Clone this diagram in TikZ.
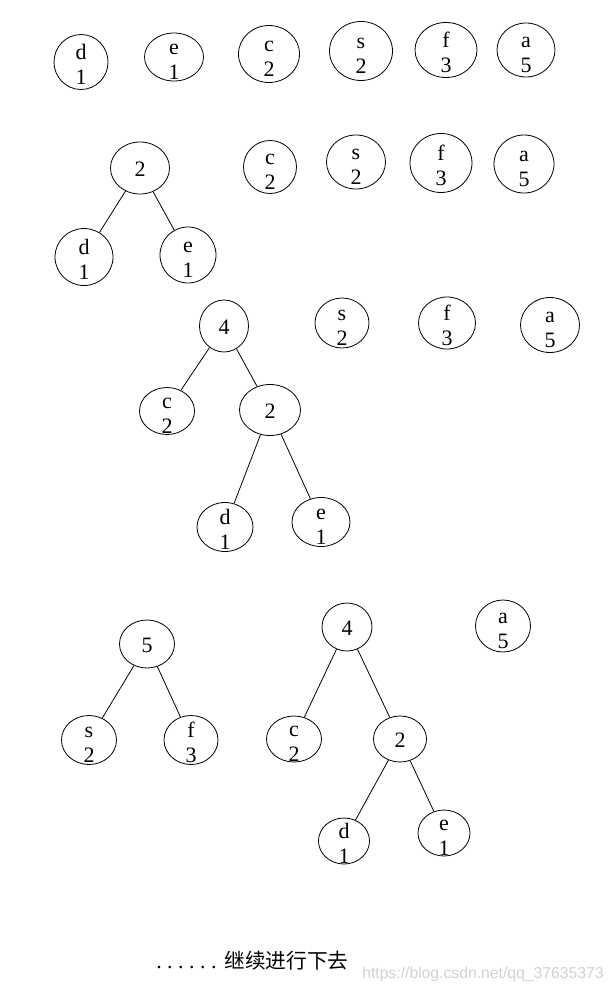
\documentclass[tikz,border=0pt]{standalone}
\usepackage{fontspec}
\setmainfont{Liberation Serif}
\newfontfamily\cjk{Noto Sans CJK SC}
\newfontfamily\wmfont{Liberation Sans}
\usetikzlibrary{shapes.geometric}
\newcommand\hpair[2]{\strut #1\\\strut #2}
\tikzset{
  hn/.style 2 args={draw, ellipse, line width=0.6pt, minimum width=#1*0.75pt, minimum height=#2*0.75pt, inner sep=0pt},
  lbl/.style={align=center, inner sep=0pt, font=\fontsize{16.5}{19}\selectfont, yshift=-3.5pt},
  num/.style={inner sep=0pt, font=\fontsize{16.5}{18.75}\selectfont, yshift=-1.2pt},
  edge/.style={line width=0.6pt},
}
\begin{document}
\begin{tikzpicture}[x=0.75pt, y=-0.75pt]
\useasboundingbox (0,0) rectangle (614,992);
% Row 1
\node[hn={54}{55}, label={[lbl]center:{\hpair{d}{1}}}] (r1d) at (81,62) {};
\node[hn={59}{48}, label={[lbl]center:{\hpair{e}{1}}}] (r1e) at (174,57) {};
\node[hn={61}{57}, label={[lbl]center:{\hpair{c}{2}}}] (r1c) at (269,54) {};
\node[hn={63}{59}, label={[lbl]center:{\hpair{s}{2}}}] (r1s) at (361,51) {};
\node[hn={62}{55}, label={[lbl]center:{\hpair{f}{3}}}] (r1f) at (446,50) {};
\node[hn={58}{54}, label={[lbl]center:{\hpair{a}{5}}}] (r1a) at (526,50) {};
% Row 2
\node[hn={59}{52}, label={[num]center:{2}}] (r2r) at (140,168) {};
\node[hn={58}{57}, label={[lbl]center:{\hpair{d}{1}}}] (r2d) at (84,257) {};
\node[hn={56}{56}, label={[lbl]center:{\hpair{e}{1}}}] (r2e) at (188,255) {};
\node[hn={53}{53}, label={[lbl]center:{\hpair{c}{2}}}] (r2c) at (270,167) {};
\node[hn={59}{54}, label={[lbl]center:{\hpair{s}{2}}}] (r2s) at (356,162) {};
\node[hn={62}{59}, label={[lbl]center:{\hpair{f}{3}}}] (r2f) at (441,163) {};
\node[hn={60}{58}, label={[lbl]center:{\hpair{a}{5}}}] (r2a) at (524,164) {};
\draw[edge] (r2r) -- (r2d);
\draw[edge] (r2r) -- (r2e);
% Row 3
\node[hn={49}{52}, label={[num]center:{4}}] (r3r) at (224,326) {};
\node[hn={54}{50}, label={[lbl]center:{\hpair{s}{2}}}] (r3s) at (342,323) {};
\node[hn={57}{52}, label={[lbl]center:{\hpair{f}{3}}}] (r3f) at (447,323) {};
\node[hn={59}{55}, label={[lbl]center:{\hpair{a}{5}}}] (r3a) at (550,325) {};
\node[hn={55}{47}, label={[lbl]center:{\hpair{c}{2}}}] (r3c) at (167,411) {};
\node[hn={61}{51}, label={[num]center:{2}}] (r3m) at (270,410) {};
\node[hn={56}{49}, label={[lbl]center:{\hpair{d}{1}}}] (r3d) at (225,527) {};
\node[hn={58}{49}, label={[lbl]center:{\hpair{e}{1}}}] (r3e) at (321,522) {};
\draw[edge] (r3r) -- (r3c);
\draw[edge] (r3r) -- (r3m);
\draw[edge] (r3m) -- (r3d);
\draw[edge] (r3m) -- (r3e);
% Row 4
\node[hn={55}{48}, label={[num]center:{5}}] (r4r5) at (147,644) {};
\node[hn={55}{49}, label={[lbl]center:{\hpair{s}{2}}}] (r4s) at (89,740) {};
\node[hn={54}{49}, label={[lbl]center:{\hpair{f}{3}}}] (r4f) at (191,740) {};
\node[hn={50}{48}, label={[num]center:{4}}] (r4r4) at (347,627) {};
\node[hn={55}{52}, label={[lbl]center:{\hpair{a}{5}}}] (r4a) at (503,626) {};
\node[hn={55}{46}, label={[lbl]center:{\hpair{c}{2}}}] (r4c) at (294,739) {};
\node[hn={53}{46}, label={[num]center:{2}}] (r4m) at (400,739) {};
\node[hn={51}{46}, label={[lbl]center:{\hpair{d}{1}}}] (r4d) at (344,841) {};
\node[hn={52}{46}, label={[lbl]center:{\hpair{e}{1}}}] (r4e) at (444,833) {};
\draw[edge] (r4r5) -- (r4s);
\draw[edge] (r4r5) -- (r4f);
\draw[edge] (r4r4) -- (r4c);
\draw[edge] (r4r4) -- (r4m);
\draw[edge] (r4m) -- (r4d);
\draw[edge] (r4m) -- (r4e);
% Bottom text
\node[anchor=base west, inner sep=0pt, font=\fontsize{16.5}{18}\selectfont] (more) at (156,968)
  {.\kern4.1pt.\kern4.1pt.\kern4.1pt.\kern4.1pt.\kern4.1pt.\kern6pt{\cjk\fontsize{15.5}{18}\selectfont 继续进行下去}};
\node[anchor=base west, inner sep=0pt, text=black!18, font=\wmfont\fontsize{11.8}{13}\selectfont] (wm) at (362,978) {https://blog.csdn.net/qq\_37635373};
\end{tikzpicture}
\end{document}
